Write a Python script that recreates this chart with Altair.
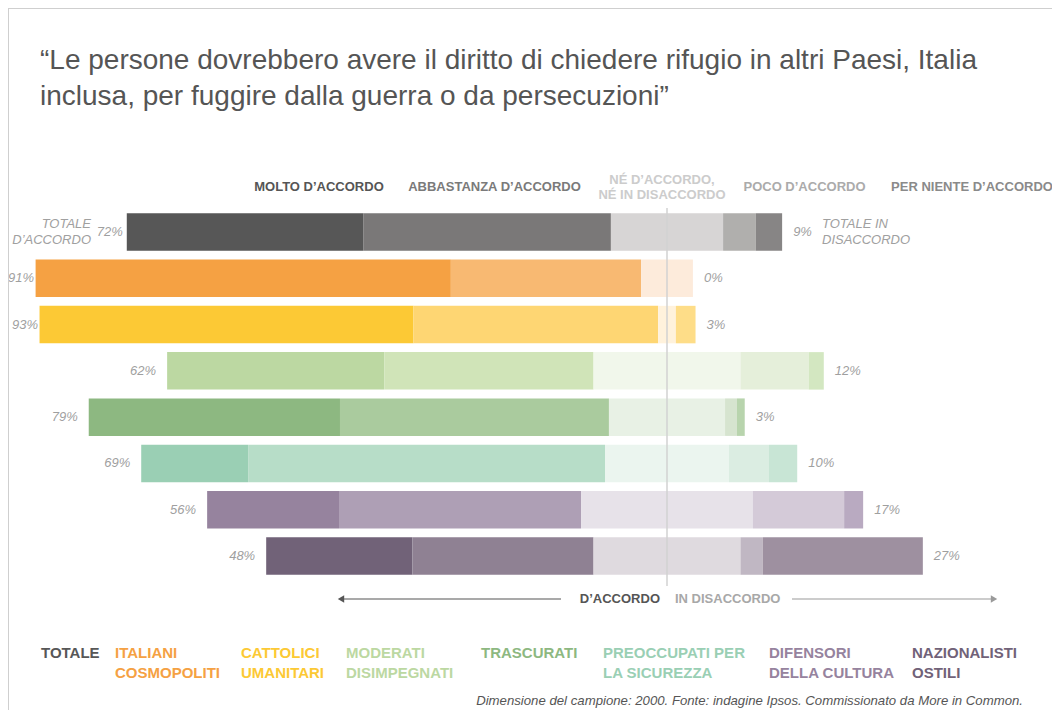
import altair as alt
import pandas as pd

# ---------------- data ----------------
groups = ["TOTALE", "ITALIANI COSMOPOLITI", "CATTOLICI UMANITARI", "MODERATI DISIMPEGNATI",
          "TRASCURATI", "PREOCCUPATI PER LA SICUREZZA", "DIFENSORI DELLA CULTURA", "NAZIONALISTI OSTILI"]
legend_lines = [["TOTALE"], ["ITALIANI", "COSMOPOLITI"], ["CATTOLICI", "UMANITARI"],
                ["MODERATI", "DISIMPEGNATI"], ["TRASCURATI"], ["PREOCCUPATI PER", "LA SICUREZZA"],
                ["DIFENSORI", "DELLA CULTURA"], ["NAZIONALISTI", "OSTILI"]]
answers = ["Molto d'accordo", "Abbastanza d'accordo", "Né d'accordo, né in disaccordo",
           "Poco d'accordo", "Per niente d'accordo"]

molto = [36.1, 63.3, 57.0, 33.1, 38.3, 16.3, 20.1, 22.3]
abbastanza = [37.7, 29.0, 37.3, 31.9, 41.0, 54.4, 36.9, 27.6]
neutrale = [17.1, 7.9, 2.7, 22.4, 17.7, 18.9, 26.2, 22.4]
poco = [5.0, 0.0, 3.0, 10.4, 1.8, 6.1, 13.9, 3.4]
per_niente = [4.0, 0.0, 0.0, 2.3, 1.2, 4.3, 2.9, 24.4]
totale_accordo = [72, 91, 93, 62, 79, 69, 56, 48]
totale_disaccordo = [9, 0, 3, 12, 3, 10, 17, 27]

title_lines = ["\u201cLe persone dovrebbero avere il diritto di chiedere rifugio in altri Paesi, Italia",
               "inclusa, per fuggire dalla guerra o da persecuzioni\u201d"]
footnote = "Dimensione del campione: 2000. Fonte: indagine Ipsos. Commissionato da More in Common."

# ---------------- styling ----------------
palette = [
    ["#575757", "#7a7878", "#d7d5d5", "#b0afad", "#878585"],
    ["#f5a143", "#f8b972", "#fdebdb", "#f8b972", "#f5a143"],
    ["#fcc935", "#fed673", "#fff2dc", "#fedd88", "#fcc935"],
    ["#bcd8a2", "#d0e4b8", "#f1f7eb", "#e5efda", "#d3e7c1"],
    ["#8db881", "#aacb9e", "#e8f1e5", "#d6e4cf", "#b8d4ad"],
    ["#9acfb4", "#b7ddc8", "#ebf5ef", "#dbede2", "#c8e5d5"],
    ["#96839e", "#ae9fb5", "#e7e2e9", "#d4cad8", "#b9aac1"],
    ["#716278", "#8f8193", "#dfdadf", "#c0b7c3", "#9e90a0"],
]
FONT = "Liberation Sans"
W, H = 1044, 702
PX_PER_PCT = 6.56
CENTER_X = 659          # chart px of 0 %
ROW0_Y, ROW_STEP = 224, 46.29
HALF_BAR = 0.405


def px(v):
    return v - 8


# ---------------- tables ----------------
seg_rows, lab_rows = [], []
for i in range(len(groups)):
    vals = [molto[i], abbastanza[i], neutrale[i], poco[i], per_niente[i]]
    start = -(molto[i] + abbastanza[i] + neutrale[i] / 2)
    cur = start
    for k, v in enumerate(vals):
        if v > 0:
            seg_rows.append({"gruppo": groups[i], "risposta": answers[k], "x0": cur, "x1": cur + v,
                             "y0": i - HALF_BAR, "y1": i + HALF_BAR, "colore": palette[i][k]})
        cur += v
    lab_rows.append({"gruppo": groups[i], "row": i, "start": start, "end": cur,
                     "acc": f"{totale_accordo[i]}%", "dis": f"{totale_disaccordo[i]}%"})
seg = pd.DataFrame(seg_rows)
lab = pd.DataFrame(lab_rows)
one = pd.DataFrame({"a": [0]})

xs = alt.Scale(domain=[-CENTER_X / PX_PER_PCT, (W - CENTER_X) / PX_PER_PCT], nice=False, zero=False)
ys = alt.Scale(domain=[-ROW0_Y / ROW_STEP, (H - ROW0_Y) / ROW_STEP], nice=False, zero=False, reverse=True)

bars = alt.Chart(seg).mark_rect().encode(
    x=alt.X("x0:Q", scale=xs, axis=None),
    x2="x1:Q",
    y=alt.Y("y0:Q", scale=ys, axis=None),
    y2="y1:Q",
    color=alt.Color("colore:N", scale=None),
    tooltip=["gruppo", "risposta"],
)

center = alt.Chart(pd.DataFrame({"v": [0]})).mark_rule(color="#d2d2d2", strokeWidth=1.5).encode(
    x=alt.X("v:Q", scale=xs, axis=None), y=alt.value(px(208)), y2=alt.value(px(586)))

pct_style = dict(font=FONT, fontSize=13, fontStyle="italic", color="#9f9f9f", baseline="middle")
left_total = alt.Chart(lab).transform_filter("datum.row == 0").mark_text(align="right", dx=-4, **pct_style).encode(
    x=alt.X("start:Q", scale=xs, axis=None), y=alt.Y("row:Q", scale=ys, axis=None), text="acc:N")
left_tight = alt.Chart(lab).transform_filter("datum.row == 1 || datum.row == 2").mark_text(
    align="right", dx=-1.5, **pct_style).encode(
    x=alt.X("start:Q", scale=xs, axis=None), y=alt.Y("row:Q", scale=ys, axis=None), text="acc:N")
left_loose = alt.Chart(lab).transform_filter("datum.row > 2").mark_text(align="right", dx=-11, **pct_style).encode(
    x=alt.X("start:Q", scale=xs, axis=None), y=alt.Y("row:Q", scale=ys, axis=None), text="acc:N")
right_lab = alt.Chart(lab).mark_text(align="left", dx=11, **pct_style).encode(
    x=alt.X("end:Q", scale=xs, axis=None), y=alt.Y("row:Q", scale=ys, axis=None), text="dis:N")


def label(text, x, y, size=13, color="#555555", weight="normal", style="normal", align="left"):
    return alt.Chart(one).mark_text(text=text, font=FONT, fontSize=size, color=color, fontWeight=weight,
                                    fontStyle=style, align=align, baseline="middle").encode(
        x=alt.value(px(x)), y=alt.value(px(y)))


layers = [bars, center, left_total, left_tight, left_loose, right_lab]

# frame
layers.append(alt.Chart(one).mark_rule(color="#cfcfcf", strokeWidth=1).encode(
    x=alt.value(0.5), y=alt.value(0), y2=alt.value(H)))
layers.append(alt.Chart(one).mark_rule(color="#cfcfcf", strokeWidth=1).encode(
    x=alt.value(0), x2=alt.value(W), y=alt.value(0.5)))

# title
layers.append(label(title_lines[0], 40, 61, size=28, color="#555555"))
layers.append(label(title_lines[1], 40, 97, size=28, color="#555555"))

# header
layers.append(label("MOLTO D\u2019ACCORDO", 319, 187, weight="bold", color="#555555", align="center"))
layers.append(label("ABBASTANZA D\u2019ACCORDO", 494.5, 187, weight="bold", color="#7a7a7a", align="center"))
layers.append(label("N\u00c9 D\u2019ACCORDO,", 662, 180, weight="bold", color="#cccccc", align="center"))
layers.append(label("N\u00c9 IN DISACCORDO", 662, 195, weight="bold", color="#cccccc", align="center"))
layers.append(label("POCO D\u2019ACCORDO", 804.5, 187, weight="bold", color="#ababab", align="center"))
layers.append(label("PER NIENTE D\u2019ACCORDO", 972, 187, weight="bold", color="#8a8a8a", align="center"))

# side notes on the total row
layers.append(label("TOTALE", 91, 224, style="italic", color="#a0a0a0", align="right"))
layers.append(label("D\u2019ACCORDO", 91, 240, style="italic", color="#a0a0a0", align="right"))
layers.append(label("TOTALE IN", 822, 224, style="italic", color="#a0a0a0"))
layers.append(label("DISACCORDO", 822, 240, style="italic", color="#a0a0a0"))

# bottom arrows
layers.append(alt.Chart(one).mark_rule(color="#555555", strokeWidth=1.2).encode(
    x=alt.value(px(340)), x2=alt.value(px(561)), y=alt.value(px(599))))
layers.append(alt.Chart(one).mark_point(shape="triangle-left", filled=True, size=55, color="#555555", opacity=1).encode(
    x=alt.value(px(341)), y=alt.value(px(599))))
layers.append(alt.Chart(one).mark_rule(color="#9a9a9a", strokeWidth=1.2).encode(
    x=alt.value(px(792)), x2=alt.value(px(994)), y=alt.value(px(599))))
layers.append(alt.Chart(one).mark_point(shape="triangle-right", filled=True, size=55, color="#9a9a9a", opacity=1).encode(
    x=alt.value(px(994)), y=alt.value(px(599))))
layers.append(label("D\u2019ACCORDO", 660, 599, weight="bold", color="#555555", align="right"))
layers.append(label("IN DISACCORDO", 675, 599, weight="bold", color="#a8a8a8"))

# legend of the groups
legend_x = [41, 115, 241, 346, 481, 603, 769, 912]
for i, lines in enumerate(legend_lines):
    for j, t in enumerate(lines):
        layers.append(label(t, legend_x[i], 653 + 20 * j, size=15, weight="bold", color=palette[i][0]))

# footnote
layers.append(label(footnote, 1023, 701, size=13.2, style="italic", color="#555555", align="right"))

chart = alt.layer(*layers).properties(
    width=W, height=H, autosize=alt.AutoSizeParams(type="none"), padding=0
).configure_view(stroke=None)

chart.save("out.html", embed_options={"renderer": "svg", "actions": False})
